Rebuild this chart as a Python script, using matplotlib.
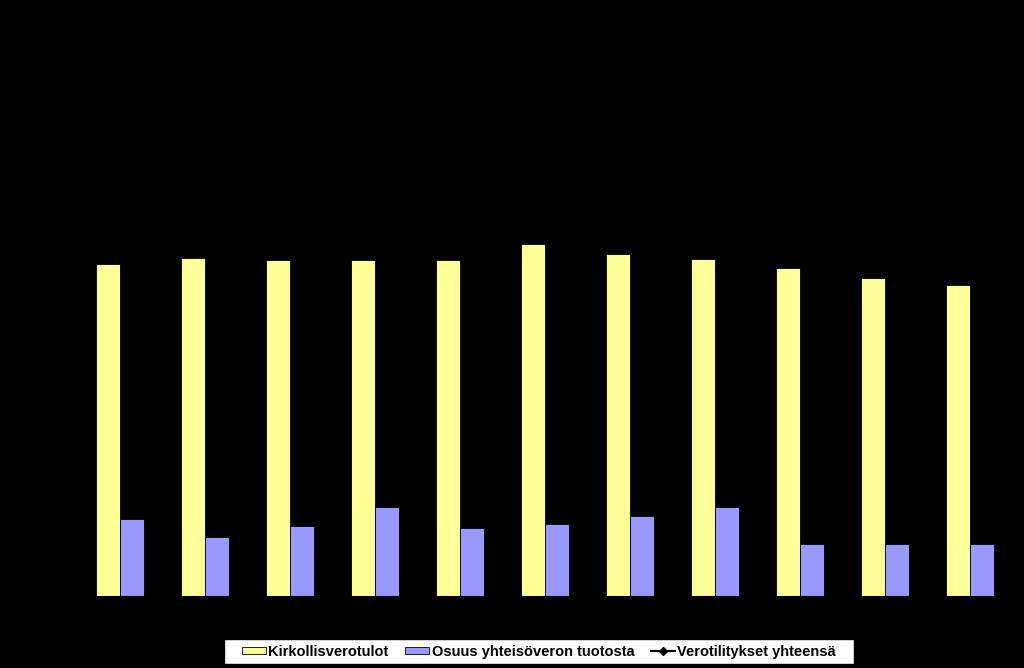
import numpy as np
import matplotlib.pyplot as plt
from matplotlib.patches import Rectangle

plt.rcParams['font.family'] = ['Liberation Sans', 'DejaVu Sans']

years = ['2000', '2001', '2002', '2003', '2004', '2005', '2006', '2007', '2008', '2009', '2010']
kirkollisverotulot = [806, 821, 816, 816, 816, 857, 831, 819, 797, 772, 755]
yhteisovero = [188, 144, 169, 217, 166, 174, 195, 217, 127, 127, 127]
yhteensa = [k + y for k, y in zip(kirkollisverotulot, yhteisovero)]

fig = plt.figure(figsize=(10.24, 6.68), dpi=100, facecolor='black')
ax = fig.add_axes([0.0757, 0.1078, 0.913, 0.862], facecolor='black')

x = np.arange(len(years))
w = 0.28
b1 = ax.bar(x - w/2, kirkollisverotulot, w, color='#ffff99', edgecolor='black', linewidth=0.6,
            label='Kirkollisverotulot')
b2 = ax.bar(x + w/2, yhteisovero, w, color='#9999ff', edgecolor='black', linewidth=0.6,
            label='Osuus yhteisöveron tuotosta')
l1, = ax.plot(x, yhteensa, color='black', marker='D', markersize=4, linewidth=1.5,
              label='Verotilitykset yhteensä')

ax.set_xlim(-0.5, len(years) - 0.5)
ax.set_ylim(0, 1400)
ax.set_xticks(x)
ax.set_xticklabels(years, color='black')
ax.tick_params(colors='black')
for s in ax.spines.values():
    s.set_color('black')

# legend without frame, box drawn separately (wider side padding like the original)
leg = fig.legend([b1, b2, l1], [b1.get_label(), b2.get_label(), l1.get_label()],
                 loc='center', bbox_to_anchor=(0.5264, 0.0247), ncol=3, frameon=False,
                 prop={'weight': 'bold', 'size': 10.5}, handlelength=1.65, handleheight=0.4,
                 handletextpad=0.15, columnspacing=1.15, borderpad=0.3)
leg.set_zorder(6)
fig.canvas.draw()
bb = leg.get_window_extent()
W, H = fig.bbox.width, fig.bbox.height
x0 = (bb.x0 - 14) / W
x1 = (bb.x1 + 14) / W
yc = (bb.y0 + bb.y1) / 2
fig.patches.append(Rectangle((x0, (yc - 12.5) / H), x1 - x0, 25 / H,
                             transform=fig.transFigure, facecolor='white',
                             edgecolor='black', linewidth=1, zorder=5))

fig.savefig('out.png', dpi=100, facecolor='black')
